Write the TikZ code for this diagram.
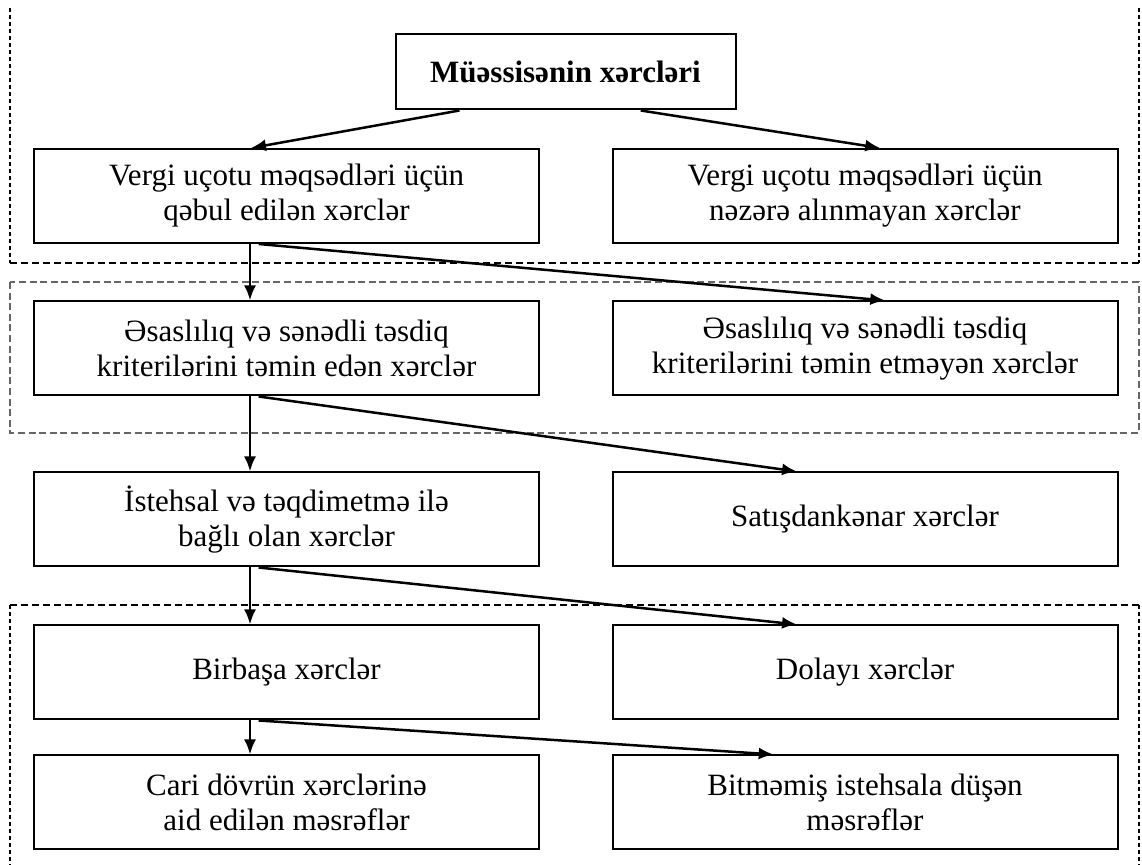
\documentclass[tikz,border=0pt]{standalone}
\usepackage{fontspec}
\setmainfont{Liberation Serif}
\usetikzlibrary{arrows.meta,calc}

\tikzset{
  box/.style = {draw, line width = 1pt, minimum width = 252.5pt,
                minimum height = 47pt, inner sep = 2pt, align = center,
                font = \fontsize{15.5}{17.5}\selectfont},
  headbox/.style = {box, minimum width = 170pt, minimum height = 37.5pt,
                    font = \fontsize{15.5}{17.5}\selectfont\bfseries},
  arrow/.style = {line width = 1.25pt, -{Latex[length = 7.5pt, width = 6pt]}},
  frame/.style = {line width = 1pt, dash pattern = on 3.5pt off 2pt},
  side/.style = {line width = 1pt, dash pattern = on 2.2pt off 1.3pt},
  lightframe/.style = {line width = .55pt, gray!80!black,
                       dash pattern = on 3.5pt off 1.8pt}
}

\begin{document}
\begin{tikzpicture}[x = .5pt, y = -.5pt]
  \useasboundingbox (0,0) rectangle (1142,865);

  % dashed groups
  \draw [frame] (10,263) -- (1139,263);
  \draw [side] (10,8) -- (10,263);
  \draw [side] (1139,8) -- (1139,263);
  \draw [lightframe] (10,282) rectangle (1139,433);
  \draw [frame] (10,605) -- (1139,605);
  \draw [side] (10,605) -- (10,870);
  \draw [side] (1139,605) -- (1139,870);

  \node [headbox] (costs) at (565.5,72) {Müəssisənin xərcləri};

  \node [box] (taxok) at (286.5,196) {Vergi uçotu məqsədləri üçün\\qəbul edilən xərclər};
  \node [box] (taxno) at (865,196) {Vergi uçotu məqsədləri üçün\\nəzərə alınmayan xərclər};

  \node [box] (docok) at (286.5,348.5) {Əsaslılıq və sənədli təsdiq\\kriterilərini təmin edən xərclər};
  \node [box] (docno) at (865,348.5) {Əsaslılıq və sənədli təsdiq\\kriterilərini təmin etməyən xərclər};

  \node [box] (prod) at (286.5,519.5) {İstehsal və təqdimetmə ilə\\bağlı olan xərclər};
  \node [box] (nonsale) at (865,519.5) {Satışdankənar xərclər};

  \node [box] (direct) at (286.5,672.5) {Birbaşa xərclər};
  \node [box] (indirect) at (865,672.5) {Dolayı xərclər};

  \node [box] (period) at (286.5,802.5) {Cari dövrün xərclərinə\\aid edilən məsrəflər};
  \node [box] (wip) at (865,802.5) {Bitməmiş istehsala düşən\\məsrəflər};

  % connectors
  \draw [arrow] ($(costs.south west)!.19!(costs.south east)$) -- ($(taxok.north west)!.43!(taxok.north east)$);
  \draw [arrow] ($(costs.south west)!.72!(costs.south east)$) -- ($(taxno.north west)!.53!(taxno.north east)$);

  \draw [arrow] ($(taxok.south west)!.428!(taxok.south east)$) -- ($(docok.north west)!.428!(docok.north east)$);
  \draw [arrow] ($(taxok.south west)!.445!(taxok.south east)$) -- ($(docno.north west)!.54!(docno.north east)$);

  \draw [arrow] ($(docok.south west)!.428!(docok.south east)$) -- ($(prod.north west)!.428!(prod.north east)$);
  \draw [arrow] ($(docok.south west)!.445!(docok.south east)$) -- ($(nonsale.north west)!.366!(nonsale.north east)$);

  \draw [arrow] ($(prod.south west)!.428!(prod.south east)$) -- ($(direct.north west)!.428!(direct.north east)$);
  \draw [arrow] ($(prod.south west)!.445!(prod.south east)$) -- ($(indirect.north west)!.366!(indirect.north east)$);

  \draw [arrow] ($(direct.south west)!.428!(direct.south east)$) -- ($(period.north west)!.428!(period.north east)$);
  \draw [arrow] ($(direct.south west)!.445!(direct.south east)$) -- ($(wip.north west)!.32!(wip.north east)$);
\end{tikzpicture}
\end{document}
